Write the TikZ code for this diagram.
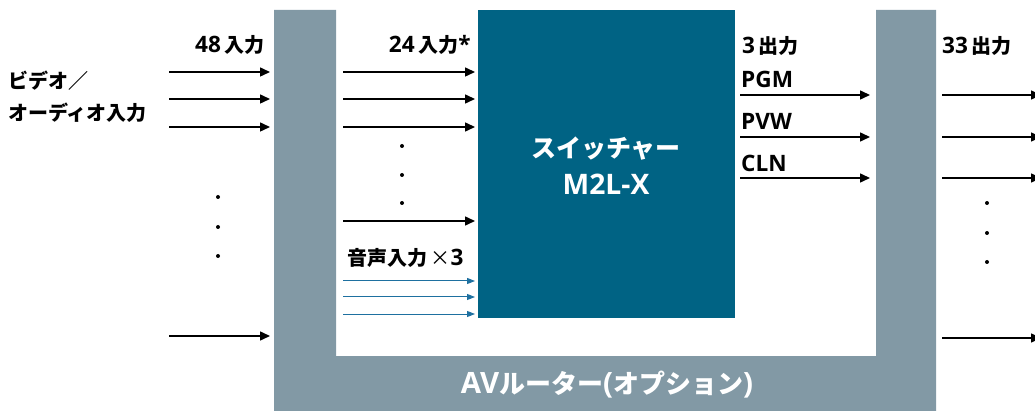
\documentclass[tikz,border=0pt]{standalone}
\usepackage{fontspec}
\setmainfont{Noto Sans CJK JP}
\newfontfamily\latinfont[Scale=1.13]{Open Sans}
\usetikzlibrary{arrows.meta}

\definecolor{routergray}{RGB}{130,153,165}
\definecolor{switchteal}{RGB}{0,99,132}
\definecolor{audioblue}{RGB}{30,112,160}

\tikzset{
  sig/.style={line width=1.5pt, -{Triangle[length=10pt,width=9pt]}},
  audiosig/.style={line width=1pt, color=audioblue, -{Triangle[length=8pt,width=6pt]}},
  lbl/.style={font=\fontsize{20}{24}\selectfont\bfseries, inner sep=0pt},
  latlbl/.style={lbl, font=\fontsize{20}{24}\selectfont\bfseries\latinfont},
  dot/.style={circle, fill=black, inner sep=0pt, minimum size=4pt}
}

\begin{document}
\begin{tikzpicture}[x=1pt, y=-1pt]
          \useasboundingbox (0,0) rectangle (1035,411);

          % router (U shape) and switcher
          \fill[routergray] (274,10) -- (336,10) -- (336,356) -- (876,356) -- (876,10)
                -- (936,10) -- (936,411) -- (274,411) -- cycle;
          \fill[switchteal] (478,10) rectangle (735,318);

          \node[lbl, text=white, align=center, font=\fontsize{25}{37}\selectfont\bfseries] (sw) at (606,166) {スイッチャー\\{\latinfont M2L-X}};
          \node[lbl, text=white, font=\fontsize{26}{30}\selectfont\bfseries] (router) at (607,385) {{\latinfont AV}ルーター{\latinfont(}オプション{\latinfont)}};

          % left inputs
          \node[lbl, anchor=east] (in48) at (265,45) {{\latinfont 48\,}入力};
          \node[lbl, anchor=west] (vlbl1) at (8,81) {ビデオ／};
          \node[lbl, anchor=west] (vlbl2) at (8,113) {オーディオ入力};
          \foreach \y [count=\i] in {72,99,127,336} {
            \coordinate (vin\i a) at (169,\y);
            \coordinate (vin\i b) at (270,\y);
            \draw[sig] (vin\i a) -- (vin\i b);
          }
          \node[dot] (ldot1) at (218,197) {};
          \node[dot] (ldot2) at (218,227) {};
          \node[dot] (ldot3) at (218,256) {};

          % switcher inputs
          \node[lbl, anchor=east] (in24) at (471,45) {{\latinfont 24\,}入力{\latinfont *}};
          \foreach \y [count=\i] in {72,99,127,221} {
            \coordinate (sin\i a) at (343,\y);
            \coordinate (sin\i b) at (475,\y);
            \draw[sig] (sin\i a) -- (sin\i b);
          }
          \node[dot] (mdot1) at (402,146) {};
          \node[dot] (mdot2) at (402,175) {};
          \node[dot] (mdot3) at (402,203) {};
          \node[lbl, anchor=west] (audio) at (347,258) {音声入力\,{\mdseries ×}{\latinfont 3}};
          \foreach \y [count=\i] in {281,297,314} {
            \coordinate (ain\i a) at (343,\y);
            \coordinate (ain\i b) at (475,\y);
            \draw[audiosig] (ain\i a) -- (ain\i b);
          }

          % switcher outputs
          \node[lbl, anchor=west] (out3) at (742,46) {{\latinfont 3\,}出力};
          \node[latlbl, anchor=west] (pgm) at (741,79) {PGM};
          \node[latlbl, anchor=west] (pvw) at (741,121) {PVW};
          \node[latlbl, anchor=west] (cln) at (741,163) {CLN};
          \foreach \y [count=\i] in {95,137,178} {
            \coordinate (sout\i a) at (740,\y);
            \coordinate (sout\i b) at (870,\y);
            \draw[sig] (sout\i a) -- (sout\i b);
          }

          % router outputs
          \node[lbl, anchor=west] (out33) at (942,46) {{\latinfont 33\,}出力};
          \foreach \y [count=\i] in {95,137,178,338} {
            \coordinate (rout\i a) at (942,\y);
            \coordinate (rout\i b) at (1041,\y);
            \draw[sig] (rout\i a) -- (rout\i b);
          }
          \node[dot] (rdot1) at (987,203) {};
          \node[dot] (rdot2) at (987,233) {};
          \node[dot] (rdot3) at (987,262) {};
\end{tikzpicture}
\end{document}
